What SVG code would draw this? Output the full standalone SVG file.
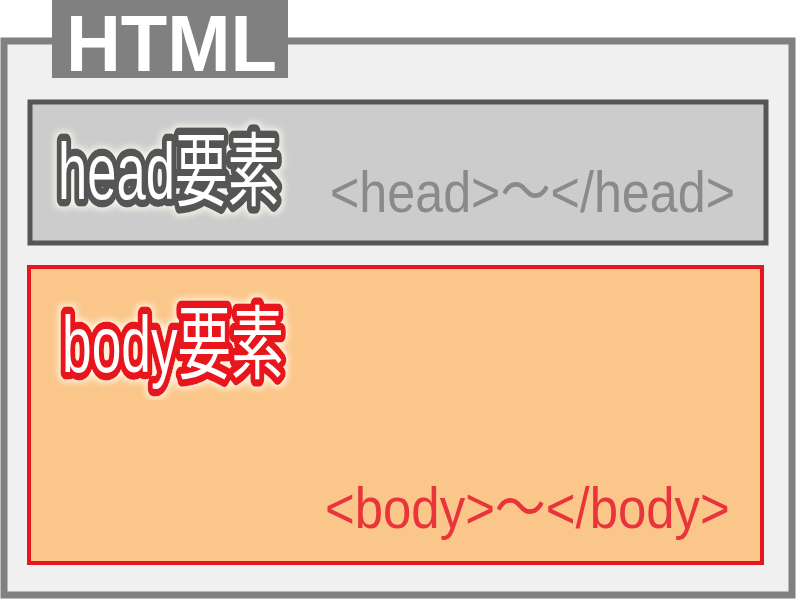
<svg xmlns="http://www.w3.org/2000/svg" width="800" height="600" viewBox="0 0 800 600">
<defs>
<style>
.lbl{font-family:"Liberation Sans","Noto Sans CJK JP",sans-serif;}
.big{font-size:80px;fill:#fff;paint-order:stroke;stroke-linejoin:round;stroke-width:15px;}
.tag{font-size:58px;}
</style>
<filter id="glow" x="-6%" y="-12%" width="112%" height="124%">
<feMorphology in="SourceAlpha" operator="dilate" radius="2" result="d"/>
<feGaussianBlur in="d" stdDeviation="3"/>
<feComponentTransfer><feFuncA type="linear" slope="0.8"/></feComponentTransfer>
<feColorMatrix type="matrix" values="0 0 0 0 1  0 0 0 0 1  0 0 0 0 0.9  0 0 0 1 0"/>
<feMerge><feMergeNode/><feMergeNode in="SourceGraphic"/></feMerge>
</filter>
</defs>
<rect width="800" height="600" fill="#ffffff"/>
<g id="html">
<rect x="4" y="41" width="788" height="554" fill="#f0f0f0" stroke="#808080" stroke-width="7"/>
<rect x="52" y="0" width="236" height="78" fill="#808080"/>
<text class="lbl" x="66" y="71" font-size="80" font-weight="bold" fill="#ffffff" textLength="211" lengthAdjust="spacingAndGlyphs">HTML</text>
</g>
<g id="head">
<rect x="30" y="102" width="736" height="141" fill="#cccccc" stroke="#555555" stroke-width="5"/>
<g filter="url(#glow)"><text class="lbl big" transform="translate(58,199) scale(0.657,1)" stroke="#555555">head要素</text></g>
<text class="lbl tag" transform="translate(330,212) scale(0.866,1)" fill="#8a8a8a">&lt;head&gt;～&lt;/head&gt;</text>
</g>
<g id="body">
<rect x="29" y="267" width="733" height="296" fill="#fbc68a" stroke="#e8141e" stroke-width="4"/>
<g filter="url(#glow)"><text class="lbl big" transform="translate(62,372) scale(0.666,1)" stroke="#e8141e">body要素</text></g>
<text class="lbl tag" transform="translate(325,528) scale(0.878,1)" fill="#e8343a">&lt;body&gt;～&lt;/body&gt;</text>
</g>
</svg>
